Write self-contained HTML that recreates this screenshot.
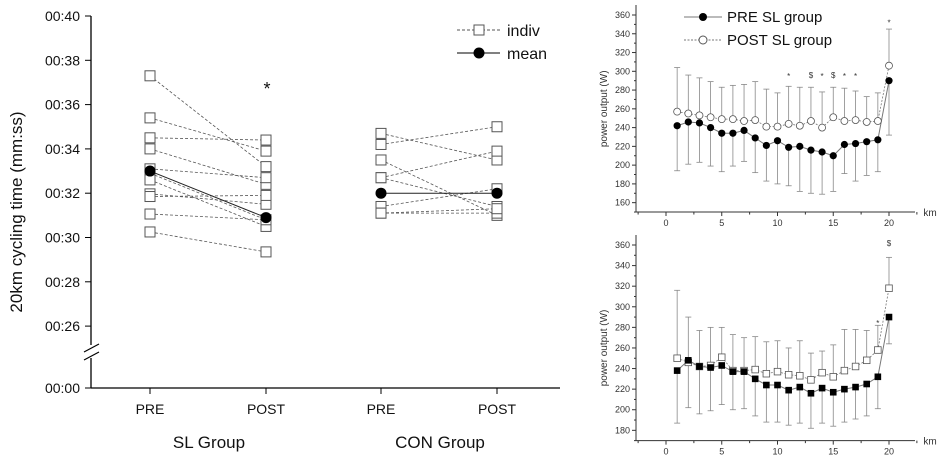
<!DOCTYPE html>
<html><head><meta charset="utf-8"><style>
html,body{margin:0;padding:0;background:#fff;}
svg{display:block;font-family:"Liberation Sans",Arial,sans-serif;}
</style></head><body>
<svg id="s" width="941" height="458" viewBox="0 0 941 458" xmlns="http://www.w3.org/2000/svg"></svg>
<script>
// ---- Left chart data (seconds within minute) ----
const yTicksL = [40,38,36,34,32,30,28,26];
const categoriesL = ['PRE','POST','PRE','POST'];
const slPre  = [37.3,35.4,34.5,34.0,33.1,32.9,32.6,31.97,31.85,31.06,30.25];
const slPost = [33.2,33.9,34.4,32.4,32.7,30.8,30.5,31.5,31.9,30.8,29.35];
const slMean = [33.0,30.9];
const conPre  = [34.7,34.2,33.5,32.7,32.7,31.4,31.1,31.1];
const conPost = [33.5,35.0,31.0,33.9,31.4,32.2,31.1,31.3];
const conMean = [32.0,32.0];
// ---- Right top ----
const km = [1,2,3,4,5,6,7,8,9,10,11,12,13,14,15,16,17,18,19,20];
const xTicksR = [0,5,10,15,20];
const topPre  = [242,246,245,240,234,234,237,229,221,226,219,220,216,214,210,222,223,225,227,290];
const topPost = [257,255,253,251,249,249,247,248,241,241,244,242,247,240,251,247,248,246,247,306];
const topUp   = [304,296,293,289,283,285,286,289,281,277,284,283,283,278,283,282,279,273,277,345];
const topLo   = [194,201,203,199,193,199,204,192,183,180,178,172,170,169,172,191,183,189,193,232];
const topMarkKm = [11,13,14,15,16,17,20];
const topMarkSym = ['*','$','*','$','*','*','*'];
const topMarkW = [295,296,295,296,295,295,352];
const yTicksTop = [160,180,200,220,240,260,280,300,320,340,360];
// ---- Right bottom ----
const botPre  = [238,248,242,241,243,237,237,230,224,224,219,222,216,221,217,220,222,225,232,290];
const botPost = [250,246,242,243,251,238,238,239,235,237,234,233,229,236,232,238,242,248,258,318];
const botUp   = [316,290,277,280,280,273,270,271,266,267,260,267,255,257,263,278,278,277,282,348];
const botLo   = [187,202,196,199,205,200,201,194,188,188,185,187,182,187,184,188,191,194,201,264];
const botMarkKm = [19,20];
const botMarkSym = ['*','$'];
const botMarkW = [284,362];
const yTicksBot = [180,200,220,240,260,280,300,320,340,360];

const NS='http://www.w3.org/2000/svg';
const svg=document.getElementById('s');
function el(tag,attrs,parent){const e=document.createElementNS(NS,tag);for(const k in attrs)e.setAttribute(k,attrs[k]);(parent||svg).appendChild(e);return e;}
function txt(x,y,s,size,anchor,parent,extra){const t=el('text',Object.assign({x:x,y:y,'font-size':size,'text-anchor':anchor||'middle',fill:'#111'},extra||{}),parent);t.textContent=s;return t;}

// ===== Left chart =====
const gL=el('g',{});


const yL=s=>16+(40-s)*22.15;
const catX=[150,266,381,497];
el('line',{x1:91,y1:16,x2:91,y2:345,stroke:'#000','stroke-width':1.3},gL);
el('line',{x1:91,y1:358,x2:91,y2:388,stroke:'#000','stroke-width':1.3},gL);
el('line',{x1:84,y1:352,x2:99,y2:344,stroke:'#000','stroke-width':1.2},gL);
el('line',{x1:84,y1:360,x2:99,y2:352,stroke:'#000','stroke-width':1.2},gL);
el('line',{x1:91,y1:388,x2:560,y2:388,stroke:'#000','stroke-width':1.3},gL);
yTicksL.forEach(v=>{const y=yL(v);el('line',{x1:85,y1:y,x2:91,y2:y,stroke:'#000'},gL);
 const t=txt(80,y+5,'00:'+v,14,'end',gL);});
el('line',{x1:85,y1:388,x2:91,y2:388,stroke:'#000'},gL);
txt(80,393,'00:00',14,'end',gL);
categoriesL.forEach((c,i)=>{el('line',{x1:catX[i],y1:388,x2:catX[i],y2:394,stroke:'#000'},gL);
 const t=txt(catX[i],414,c,14,'middle',gL);});
const g1=txt(209,448,'SL Group',17,'middle',gL);
const g2=txt(440,448,'CON Group',17,'middle',gL);
const yt=txt(0,0,'20km cycling time (mm:ss)',17,'middle',gL,{transform:'translate(22,212) rotate(-90)'});

function indiv(pre,post,x0,x1){pre.forEach((p,i)=>{el('line',{x1:x0,y1:yL(p),x2:x1,y2:yL(post[i]),stroke:'#555','stroke-width':0.8,'stroke-dasharray':'3,2'},gL);});
 pre.forEach(p=>{const r=el('rect',{x:x0-5,y:yL(p)-5,width:10,height:10,fill:'#fff',stroke:'#555','stroke-width':1},gL);});
 post.forEach(p=>{const r=el('rect',{x:x1-5,y:yL(p)-5,width:10,height:10,fill:'#fff',stroke:'#555','stroke-width':1},gL);});}
function mean(m,x0,x1){el('line',{x1:x0,y1:yL(m[0]),x2:x1,y2:yL(m[1]),stroke:'#222','stroke-width':1},gL);
 [[x0,m[0]],[x1,m[1]]].forEach(([x,v])=>{const c=el('circle',{cx:x,cy:yL(v),r:5.5,fill:'#000'},gL);});}
indiv(slPre,slPost,catX[0],catX[1]);indiv(conPre,conPost,catX[2],catX[3]);
mean(slMean,catX[0],catX[1]);mean(conMean,catX[2],catX[3]);
txt(267,95,'*',18,'middle',gL);
// legend
const lg=el('g',{},gL);
el('line',{x1:457,y1:30,x2:500,y2:30,stroke:'#555','stroke-dasharray':'3,2'},lg);
el('rect',{x:474,y:25,width:10,height:10,fill:'#fff',stroke:'#555'},lg);
txt(507,36,'indiv',16,'start',lg);
el('line',{x1:457,y1:53,x2:500,y2:53,stroke:'#000'},lg);
el('circle',{cx:479,cy:53,r:5.5,fill:'#000'},lg);
txt(507,59,'mean',16,'start',lg);

// ===== Right charts =====
const xR=k=>666+k*11.15;
function panel(name,y0,scale,yMin,yTicks,pre,post,up,lo,mk,ms,mw,squares,legend){
 const g=el('g',{});
 const yy=w=>y0+(360-w)*scale; const base=yy(yMin);
 el('line',{x1:636,y1:y0-10,x2:636,y2:base,stroke:'#333'},g);
 el('line',{x1:636,y1:base,x2:915,y2:base,stroke:'#333'},g);
 yTicks.forEach(v=>{el('line',{x1:632,y1:yy(v),x2:636,y2:yy(v),stroke:'#333'},g);txt(630,yy(v)+3,String(v),9,'end',g,{fill:'#333'});});
 for(let v=yTicks[0]-10;v<=360;v+=20){el('line',{x1:634,y1:yy(v),x2:636,y2:yy(v),stroke:'#333'},g);}
 xTicksR.forEach(k=>{el('line',{x1:xR(k),y1:base,x2:xR(k),y2:base+4,stroke:'#333'},g);txt(xR(k),base+14,String(k),9,'middle',g,{fill:'#333'});});
 for(let k=-2.5;k<=22.5;k+=5){el('line',{x1:xR(k),y1:base,x2:xR(k),y2:base+2.5,stroke:'#333'},g);}
 txt(930,base+4,'km',10,'middle',g,{fill:'#333'});
 txt(0,0,'power output (W)',10,'middle',g,{fill:'#333',transform:'translate(607,'+(yy(260))+') rotate(-90)'});
 km.forEach((k,i)=>{const x=xR(k);
  el('line',{x1:x,y1:yy(post[i]),x2:x,y2:yy(up[i]),stroke:'#888','stroke-width':0.8},g);
  el('line',{x1:x-3,y1:yy(up[i]),x2:x+3,y2:yy(up[i]),stroke:'#888','stroke-width':0.8},g);
  el('line',{x1:x,y1:yy(pre[i]),x2:x,y2:yy(lo[i]),stroke:'#888','stroke-width':0.8},g);
  el('line',{x1:x-3,y1:yy(lo[i]),x2:x+3,y2:yy(lo[i]),stroke:'#888','stroke-width':0.8},g);});
 el('polyline',{points:km.map((k,i)=>xR(k)+','+yy(post[i])).join(' '),fill:'none',stroke:'#777','stroke-width':0.8,'stroke-dasharray':'2,1.5'},g);
 el('polyline',{points:km.map((k,i)=>xR(k)+','+yy(pre[i])).join(' '),fill:'none',stroke:'#777','stroke-width':1},g);
 km.forEach((k,i)=>{let m;
  if(squares){m=el('rect',{x:xR(k)-3.3,y:yy(post[i])-3.3,width:6.6,height:6.6,fill:'#fff',stroke:'#555','stroke-width':0.8},g);}
  else{m=el('circle',{cx:xR(k),cy:yy(post[i]),r:3.5,fill:'#fff',stroke:'#555','stroke-width':0.8},g);}
  
  let n;
  if(squares){n=el('rect',{x:xR(k)-3.3,y:yy(pre[i])-3.3,width:6.6,height:6.6,fill:'#000'},g);}
  else{n=el('circle',{cx:xR(k),cy:yy(pre[i]),r:3.6,fill:'#000'},g);}
  });
 mk.forEach((k,i)=>{txt(xR(k),yy(mw[i])+3,ms[i],8,'middle',g,{fill:'#333'});});
 if(legend){const l=el('g',{},g);
  el('line',{x1:684,y1:17,x2:722,y2:17,stroke:'#777'},l);el('circle',{cx:703,cy:17,r:4,fill:'#000'},l);
  txt(727,22,'PRE SL group',15,'start',l);
  el('line',{x1:684,y1:40,x2:722,y2:40,stroke:'#777','stroke-dasharray':'2,1.5'},l);el('circle',{cx:703,cy:40,r:4,fill:'#fff',stroke:'#555'},l);
  txt(727,45,'POST SL group',15,'start',l);}
}
panel('power-output-sl-chart',15,0.9383,150,yTicksTop,topPre,topPost,topUp,topLo,topMarkKm,topMarkSym,topMarkW,false,true);
panel('power-output-con-chart',245,1.0296,170,yTicksBot,botPre,botPost,botUp,botLo,botMarkKm,botMarkSym,botMarkW,true,false);
</script>
</body></html>
